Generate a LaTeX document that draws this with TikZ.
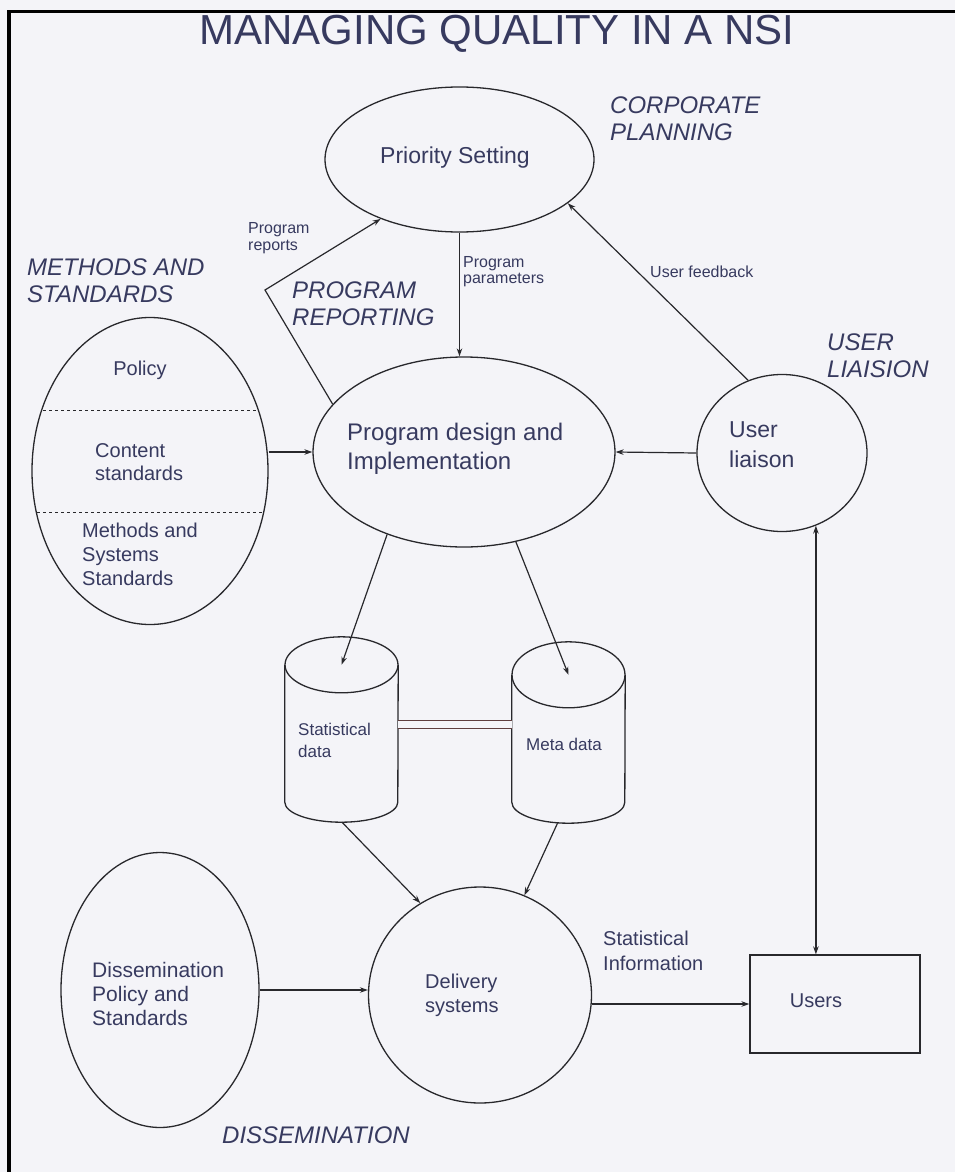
\documentclass[tikz,border=0pt]{standalone}
\usepackage{fontspec}
\setmainfont{Liberation Sans}
\usepackage{xcolor}
\usetikzlibrary{arrows.meta,positioning,shapes.geometric}

\definecolor{txtc}{RGB}{55,58,95}
\definecolor{linec}{RGB}{40,40,44}
\definecolor{paper}{RGB}{244,244,248}
\definecolor{linkc}{RGB}{95,62,62}

\begin{document}
\begin{tikzpicture}[
      x=1pt, y=-1pt,
      >={Stealth[length=8pt,width=5.5pt]},
      shp/.style={draw=linec, line width=1.3pt, inner sep=0pt},
      oval/.style={shp, ellipse},
      lbl/.style={inner sep=0pt, text=txtc, anchor=base west, align=left},
      area/.style={lbl, font=\fontsize{24}{27}\selectfont\itshape},
      tiny/.style={lbl, font=\fontsize{16}{17}\selectfont},
      mid/.style={lbl, font=\fontsize{20}{24}\selectfont},
      big/.style={lbl, font=\fontsize{24}{29.5}\selectfont},
      flow/.style={->, draw=linec, line width=1.2pt}
    ]
      \path[use as bounding box, fill=paper] (0,0) rectangle (955,1172);
      \draw[line width=3.5pt, black] (9,1172) -- (9,11.5) -- (955,11.5);

      % Title
      \node[lbl, anchor=base, font=\fontsize{42}{44}\selectfont] (title) at (497,45) {MANAGING QUALITY IN A NSI};

      % Corporate planning
      \node[oval, minimum width=269pt, minimum height=145pt] (prio) at (459.5,159.5) {};
      \node[lbl, anchor=base, font=\fontsize{23}{27}\selectfont] (priotxt) at (455,163) {Priority Setting};
      \node[area] (corp) at (610,140) {CORPORATE\\PLANNING};

      % Program design
      \node[oval, minimum width=302pt, minimum height=190pt] (prog) at (464,452) {};
      \node[big] (progtxt) at (347,469.5) {Program design and\\Implementation};

      % Methods and standards
      \node[oval, minimum width=236pt, minimum height=307pt] (meth) at (150,471) {};
      \begin{scope}
        \clip (meth.center) ellipse [x radius=118pt, y radius=153pt];
        \draw[dashed, line width=1pt, linec] (meth.west |- 0,410) -- (meth.east |- 0,410);
        \draw[dashed, line width=1pt, linec] (meth.west |- 0,512) -- (meth.east |- 0,512);
      \end{scope}
      \node[mid, anchor=base] (policy) at (140,375) {Policy};
      \node[mid, font=\fontsize{20}{23}\selectfont] (content) at (95,480) {Content\\standards};
      \node[mid] (msys) at (82,585) {Methods and\\Systems\\Standards};
      \node[area] (methlbl) at (27,302) {METHODS AND\\STANDARDS};

      % User liaison
      \node[oval, minimum width=170pt, minimum height=157pt] (uli) at (782,453) {};
      \node[big, font=\fontsize{23}{29.5}\selectfont] (ulitxt) at (729,467) {User\\liaison};
      \node[area] (ulilbl) at (827,377) {USER\\LIAISION};

      % Data stores
      \node[minimum width=113pt, minimum height=185pt, inner sep=0pt] (stat) at (341.5,729.5) {};
      \node[minimum width=113pt, minimum height=181pt, inner sep=0pt] (meta) at (568.5,732.5) {};
      \draw[shp] ([yshift=-28pt]stat.north) ellipse [x radius=56.5pt, y radius=28pt];
      \draw[shp] ([yshift=-28pt]stat.north west) -- ([yshift=20pt]stat.south west)
        arc [start angle=180, end angle=360, x radius=56.5pt, y radius=20pt] -- ([yshift=-28pt]stat.north east);
      \draw[shp] ([yshift=-33pt]meta.north) ellipse [x radius=56.5pt, y radius=33pt];
      \draw[shp] ([yshift=-33pt]meta.north west) -- ([yshift=21pt]meta.south west)
        arc [start angle=180, end angle=360, x radius=56.5pt, y radius=21pt] -- ([yshift=-33pt]meta.north east);
      \node[tiny, font=\fontsize{17}{22}\selectfont] (stattxt) at (298,757) {Statistical\\data};
      \node[tiny, font=\fontsize{17}{22}\selectfont] (metatxt) at (526,750) {Meta data};
      \draw[double=paper, double distance=7pt, line width=0.9pt, linkc]
        ([yshift=5pt]stat.east) -- ([yshift=5pt]stat.east -| meta.west);

      % Dissemination
      \node[oval, minimum width=198pt, minimum height=275pt] (diss) at (160,990) {};
      \node[mid, font=\fontsize{21}{24}\selectfont] (disstxt) at (92,1025) {Dissemination\\Policy and\\Standards};
      \node[oval, minimum width=223pt, minimum height=216pt] (deliv) at (480,995) {};
      \node[mid] (delivtxt) at (425,1012) {Delivery\\systems};
      \node[shp, minimum width=170pt, minimum height=98pt] (users) at (835,1004) {};
      \node[mid, anchor=base] (userstxt) at (816,1007) {Users};
      \node[mid, font=\fontsize{20}{25}\selectfont] (statinfo) at (603,970) {Statistical\\Information};
      \node[area] (disslbl) at (222,1143) {DISSEMINATION};

      % Connections
      \coordinate (rbend) at (265,290);
      \draw[flow] (prog.160) -- (rbend) -- (prio.217);
      \node[tiny] (rep) at (248,250) {Program\\reports};
      \node[area] (replbl) at (292,325) {PROGRAM\\REPORTING};
      \draw[flow] (prio.south) -- (prio.south |- prog.north);
      \node[tiny, font=\fontsize{16}{16}\selectfont] (par) at (463,283) {Program\\parameters};
      \draw[flow] (uli.115) -- (prio.338);
      \node[tiny] (fb) at (650,277) {User feedback};
      \draw[flow] (meth.east |- prog.west) -- (prog.west);
      \draw[flow] (uli.west) -- (prog.east);
      \draw[flow] (prog.227) -- ([yshift=-28pt]stat.north);
      \draw[flow] (prog.300) -- ([yshift=-33pt]meta.north);
      \draw[flow] ([xshift=0.5pt]stat.south) -- (deliv.123);
      \draw[flow] ([xshift=-11pt]meta.south) -- (deliv.66);
      \draw[flow] (diss.east) -- (diss.east -| deliv.west);
      \draw[flow] (deliv.east |- users.west) -- (users.west);
      \draw[flow, <->] (uli.295) -- (uli.295 |- users.north);
    \end{tikzpicture}
\end{document}
